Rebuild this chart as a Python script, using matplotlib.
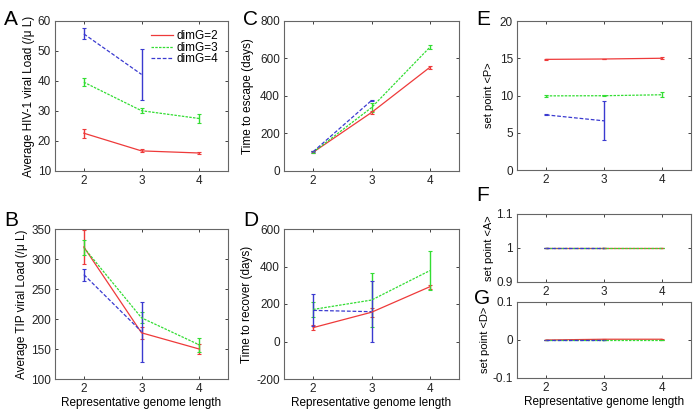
import matplotlib
matplotlib.use("Agg")
import matplotlib.pyplot as plt
from matplotlib.lines import Line2D

plt.rcParams['font.family'] = ['Liberation Sans', 'DejaVu Sans']
plt.rcParams['font.size'] = 8

# genome lengths
x3 = [2, 3, 4]
x2 = [2, 3]
labels = ['dimG=2', 'dimG=3', 'dimG=4']

# Panel A: average HIV-1 viral load
A_red = [22.6, 16.7, 16.0];   A_red_e = [1.5, 0.5, 0.4]
A_grn = [39.6, 30.1, 27.5];   A_grn_e = [1.4, 0.8, 1.6]
A_blu = [55.7, 42.2];         A_blu_e = [1.8, 8.6]

# Panel B: average TIP viral load
B_red = [320, 177, 150];      B_red_e = [28, 10, 9]
B_grn = [319, 202, 157];      B_grn_e = [12, 9, 12]
B_blu = [274, 179];           B_blu_e = [10, 50]

# Panel C: time to escape
C_red = [100, 312, 553];      C_red_e = [4, 6, 8]
C_grn = [100, 338, 660];      C_grn_e = [4, 25, 12]
C_blu = [103, 376];           C_blu_e = [4, 5]

# Panel D: time to recover
D_red = [74, 156, 292];       D_red_e = [15, 25, 10]
D_grn = [171, 221, 378];      D_grn_e = [38, 143, 105]
D_blu = [166, 159];           D_blu_e = [85, 162]

# Panel E: set point <P>
E_red = [14.85, 14.9, 15.0];  E_red_e = [0.05, 0.05, 0.15]
E_grn = [9.95, 9.97, 10.1];   E_grn_e = [0.1, 0.05, 0.35]
E_blu = [7.4, 6.6];           E_blu_e = [0.05, 2.6]

# Panel F: set point <A>
F_red = [1.0, 1.0, 1.0];      F_red_e = [0.001, 0.001, 0.001]
F_grn = [1.0, 1.0, 1.0];      F_grn_e = [0.001, 0.001, 0.001]
F_blu = [1.0, 1.0];           F_blu_e = [0.001, 0.001]

# Panel G: set point <D>
G_red = [0.0, 0.002, 0.002];  G_red_e = [0.001, 0.001, 0.001]
G_grn = [0.0, 0.0, 0.0];      G_grn_e = [0.001, 0.001, 0.001]
G_blu = [0.0, 0.0];           G_blu_e = [0.001, 0.001]

RED = '#ee3a3a'
GRN = '#33dd33'
BLU = '#3a3ad0'
styles = [dict(color=RED, ls='-'),
          dict(color=GRN, ls=(0, (2, 1))),
          dict(color=BLU, ls=(0, (3, 1.5)))]

fig = plt.figure(figsize=(6.96, 4.12), dpi=100)

def style_ax(ax, ylim, yticks, xlabel=None):
    ax.set_xlim(1.5, 4.5)
    ax.set_ylim(*ylim)
    ax.set_xticks([2, 3, 4])
    ax.set_yticks(yticks)
    ax.tick_params(direction='in', length=2.5, width=0.6, top=True, right=True,
                   labelsize=8.5, colors='#222222', pad=3)
    for s in ax.spines.values():
        s.set_color('#666666')
        s.set_linewidth(0.8)
    if xlabel:
        ax.set_xlabel(xlabel, fontsize=8.5, labelpad=1)

def draw(ax, series, lw=0.9):
    for (xv, yv, ev), st in zip(series, styles):
        ax.errorbar(xv, yv, yerr=ev, color=st['color'], ls=st['ls'], lw=lw,
                    elinewidth=1.0, capsize=1.5, capthick=0.8)

xl = 'Representative genome length'

# A
axA = fig.add_axes([55/696, 1-171/412, 173/696, 150/412])
draw(axA, [(x3, A_red, A_red_e), (x3, A_grn, A_grn_e), (x2, A_blu, A_blu_e)])
style_ax(axA, (10, 60), [10, 20, 30, 40, 50, 60])
axA.set_ylabel('Average HIV-1 viral Load (/μ L)', fontsize=8.5, labelpad=2)
leg_handles = [Line2D([], [], color=s['color'], ls=s['ls'], lw=0.9) for s in styles]
axA.legend(leg_handles, labels, loc='upper right', frameon=False, fontsize=8.5,
           handlelength=1.9, handletextpad=0.3, labelspacing=-0.05,
           borderaxespad=0.4)

# B
axB = fig.add_axes([55/696, 1-379/412, 173/696, 150/412])
draw(axB, [(x3, B_red, B_red_e), (x3, B_grn, B_grn_e), (x2, B_blu, B_blu_e)])
style_ax(axB, (100, 350), [100, 150, 200, 250, 300, 350], xl)
axB.set_ylabel('Average TIP viral Load (/μ L)', fontsize=8.5, labelpad=2)

# C
axC = fig.add_axes([284/696, 1-171/412, 175/696, 150/412])
draw(axC, [(x3, C_red, C_red_e), (x3, C_grn, C_grn_e), (x2, C_blu, C_blu_e)])
style_ax(axC, (0, 800), [0, 200, 400, 600, 800])
axC.set_ylabel('Time to escape (days)', fontsize=8.5, labelpad=4)

# D
axD = fig.add_axes([284/696, 1-379/412, 175/696, 150/412])
draw(axD, [(x3, D_red, D_red_e), (x3, D_grn, D_grn_e), (x2, D_blu, D_blu_e)])
style_ax(axD, (-200, 600), [-200, 0, 200, 400, 600], xl)
axD.set_ylabel('Time to recover (days)', fontsize=8.5, labelpad=2)

# E
axE = fig.add_axes([517/696, 1-170/412, 174/696, 149/412])
draw(axE, [(x3, E_red, E_red_e), (x3, E_grn, E_grn_e), (x2, E_blu, E_blu_e)])
style_ax(axE, (0, 20), [0, 5, 10, 15, 20])
axE.set_ylabel('set point <P>', fontsize=8, labelpad=4)

# F
axF = fig.add_axes([517/696, 1-282/412, 174/696, 68/412])
draw(axF, [(x3, F_red, F_red_e), (x3, F_grn, F_grn_e), (x2, F_blu, F_blu_e)])
style_ax(axF, (0.9, 1.1), [0.9, 1.0, 1.1])
axF.set_yticklabels(['0.9', '1', '1.1'])
axF.set_ylabel('set point <A>', fontsize=8, labelpad=2)

# G
axG = fig.add_axes([517/696, 1-378/412, 174/696, 76/412])
draw(axG, [(x3, G_red, G_red_e), (x3, G_grn, G_grn_e), (x2, G_blu, G_blu_e)])
style_ax(axG, (-0.1, 0.1), [-0.1, 0.0, 0.1], xl)
axG.set_yticklabels(['-0.1', '0', '0.1'])
axG.set_ylabel('set point <D>', fontsize=8, labelpad=2)

for ax in [axA, axB, axC, axD, axE]:
    ax.set_yticklabels([('%g' % v) for v in ax.get_yticks()])

# panel letters
for lab, px, py in [('A', 4, 25), ('B', 4, 226), ('C', 243, 25), ('D', 243, 226),
                    ('E', 476, 25), ('F', 476, 201), ('G', 474, 304)]:
    fig.text(px/696, 1-py/412, lab, fontsize=15, color='black', ha='left', va='baseline')

fig.savefig('out.png', dpi=100)
